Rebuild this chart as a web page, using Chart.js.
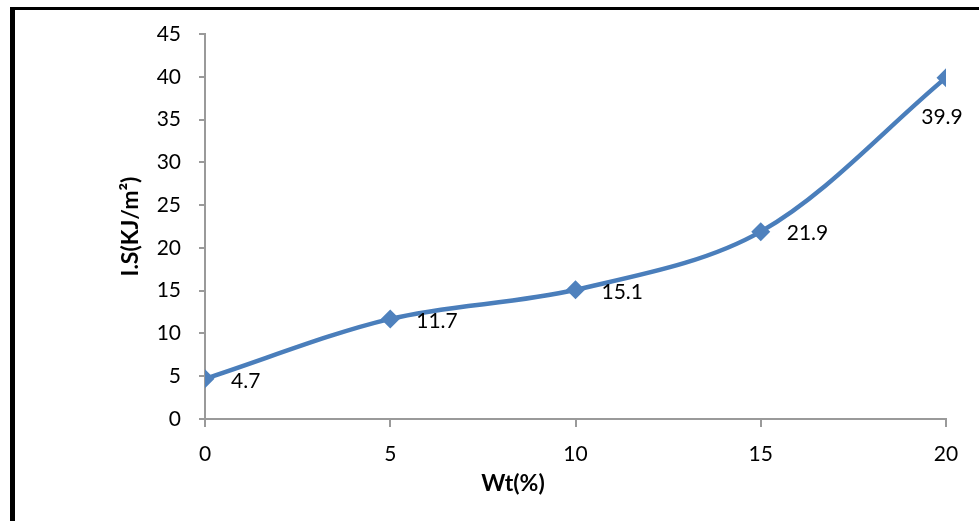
<!DOCTYPE html>
<html>
<head>
<meta charset="utf-8">
<script src="https://cdn.jsdelivr.net/npm/chart.js@4.4.1/dist/chart.umd.min.js"></script>
<style>
  html, body { margin: 0; padding: 0; background: #fff; }
  #wrap { position: relative; width: 979px; height: 521px; overflow: hidden; }
  canvas { position: absolute; left: 0; top: 0; }
  .bt { position: absolute; left: 10px; top: 7px; width: 969px; height: 3px; background: #000; }
  .bl { position: absolute; left: 10px; top: 7px; width: 5px; height: 514px; background: #000; }
</style>
</head>
<body>
<div id="wrap">
  <canvas id="c" width="979" height="521"></canvas>
  <div class="bt"></div>
  <div class="bl"></div>
</div>
<script>
// ---- data ----
const wtPercent = [0, 5, 10, 15, 20];
const impactStrength = [4.7, 11.7, 15.1, 21.9, 39.9];
const dataLabels = ['4.7', '11.7', '15.1', '21.9', '39.9'];
const xTitle = 'Wt(%)';
const yTitle = 'I.S(KJ/m\u00B2)';

const FONT = 'Lato, "Open Sans", sans-serif';

const labelPlugin = {
  id: 'labels',
  afterDatasetsDraw(chart) {
    const ctx = chart.ctx;
    const meta = chart.getDatasetMeta(0);
    ctx.save();
    ctx.fillStyle = '#000';
    ctx.font = '21px ' + FONT;
    ctx.textBaseline = 'middle';
    meta.data.forEach((pt, i) => {
      if (i === meta.data.length - 1) {
        ctx.textAlign = 'center';
        ctx.fillText(dataLabels[i], pt.x - 4, pt.y + 40);
      } else {
        ctx.textAlign = 'left';
        ctx.fillText(dataLabels[i], pt.x + 26, pt.y + 2);
      }
    });
    // axis titles
    const ca = chart.chartArea;
    ctx.font = 'bold 23px ' + FONT;
    ctx.textAlign = 'center';
    ctx.fillText(xTitle, 513, 484);
    ctx.translate(131, (ca.top + ca.bottom) / 2);
    ctx.rotate(-Math.PI / 2);
    ctx.fillText(yTitle, 0, 0);
    ctx.restore();
  }
};

const axisColor = '#9a9a9a';

new Chart(document.getElementById('c'), {
  type: 'line',
  data: {
    datasets: [{
      data: wtPercent.map((x, i) => ({ x: x, y: impactStrength[i] })),
      borderColor: '#4A7EBB',
      backgroundColor: '#4F81BD',
      borderWidth: 4.5,
      tension: 0.33,
      pointStyle: 'rectRot',
      pointRadius: 9.5,
      pointHoverRadius: 9.5,
      pointBorderWidth: 0,
      pointBackgroundColor: '#4F81BD',
      fill: false
    }]
  },
  options: {
    responsive: false,
    animation: false,
    devicePixelRatio: 1,
    layout: { padding: { top: 34, right: 33, left: 0, bottom: 0 } },
    plugins: { legend: { display: false }, tooltip: { enabled: false }, title: { display: false } },
    scales: {
      x: {
        type: 'linear',
        min: 0, max: 20,
        afterFit(scale) { scale.height = 102; },
        ticks: { stepSize: 5, color: '#000', font: { family: FONT, size: 21 }, padding: 15, maxRotation: 0 },
        grid: { drawOnChartArea: false, drawTicks: true, tickLength: 8, color: axisColor, lineWidth: 2 },
        border: { display: true, color: axisColor, width: 2 }
      },
      y: {
        min: 0, max: 45,
        afterFit(scale) { scale.width = 205; },
        ticks: { stepSize: 5, color: '#000', font: { family: FONT, size: 21 }, padding: 18 },
        grid: { drawOnChartArea: false, drawTicks: true, tickLength: 6, color: axisColor, lineWidth: 2 },
        border: { display: true, color: axisColor, width: 2 }
      }
    }
  },
  plugins: [labelPlugin]
});
</script>
</body>
</html>
